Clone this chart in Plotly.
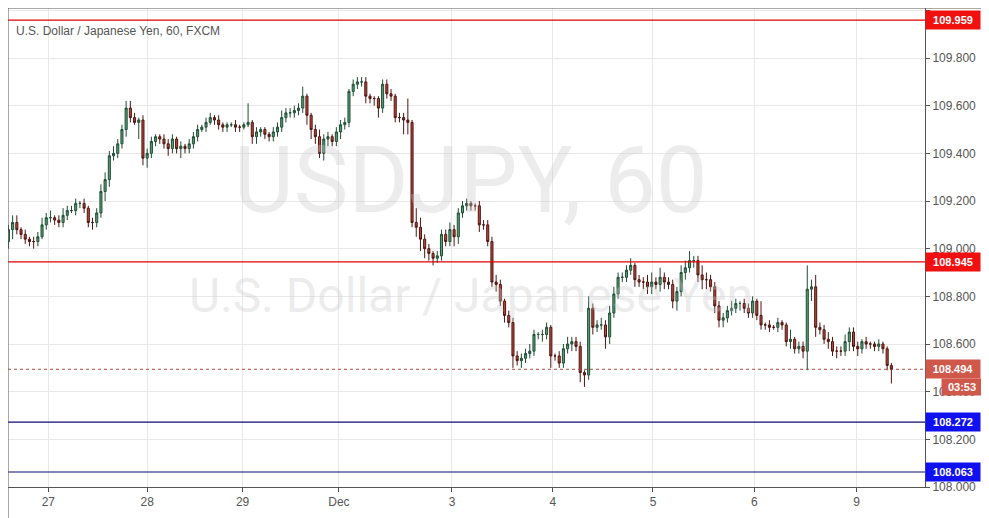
import plotly.graph_objects as pgo

# hourly closes, USD/JPY
closes = [
    109.08, 109.11, 109.08, 109.06, 109.04, 109.03, 109.03, 109.05, 109.10, 109.13,
    109.13, 109.12, 109.11, 109.14, 109.16, 109.16, 109.19, 109.19, 109.17, 109.11,
    109.11, 109.15, 109.24, 109.29, 109.39, 109.40, 109.44, 109.50, 109.59, 109.55,
    109.53, 109.54, 109.38, 109.40, 109.45, 109.47, 109.46, 109.44, 109.42, 109.46,
    109.42, 109.43, 109.42, 109.44, 109.47, 109.50, 109.51, 109.53, 109.55, 109.54,
    109.52, 109.51, 109.52,
    109.52, 109.51, 109.51, 109.52, 109.53, 109.47, 109.49, 109.50, 109.48, 109.47,
    109.49, 109.51, 109.55, 109.57, 109.57, 109.58, 109.59, 109.64, 109.56, 109.50,
    109.47, 109.40, 109.46, 109.47, 109.45, 109.49, 109.52, 109.53, 109.66, 109.69,
    109.70, 109.70, 109.64, 109.63, 109.63, 109.59, 109.69, 109.65, 109.64, 109.55,
    109.55, 109.54, 109.53, 109.11, 109.09, 109.04, 109.00, 108.98, 108.96, 108.97,
    109.06, 109.03, 109.08,
    109.05, 109.15, 109.18, 109.19, 109.18, 109.18, 109.10, 109.10, 109.03, 108.86,
    108.85, 108.78, 108.72, 108.69, 108.55, 108.53, 108.54, 108.56, 108.57, 108.64,
    108.64, 108.64, 108.67, 108.55, 108.55, 108.52, 108.58, 108.60, 108.61, 108.59,
    108.48, 108.47, 108.75, 108.67, 108.68, 108.68, 108.63, 108.73, 108.81, 108.88,
    108.88, 108.91, 108.93, 108.87, 108.86, 108.86, 108.84, 108.86, 108.85, 108.88,
    108.86, 108.85,
    108.78, 108.82, 108.90, 108.92, 108.95, 108.95, 108.89, 108.87, 108.87, 108.84,
    108.76, 108.70, 108.71, 108.74, 108.75, 108.77, 108.77, 108.75, 108.73, 108.78,
    108.72, 108.68, 108.68, 108.67, 108.67, 108.69, 108.68, 108.61, 108.62, 108.58,
    108.59, 108.57, 108.83, 108.84, 108.67, 108.66, 108.62, 108.61, 108.57, 108.57,
    108.57, 108.61, 108.65, 108.59, 108.58, 108.61, 108.60, 108.60, 108.59, 108.60,
    108.58, 108.51, 108.494,
]
first_open = 109.03

# wick length above / below the body
wick_up = [
    0.02, 0.03, 0.03, 0.01, 0.02, 0.01, 0.02, 0.02, 0.03, 0.02,
    0.03, 0.01, 0.02, 0.03, 0.02, 0.02, 0.02, 0.01, 0.02, 0.01,
    0.02, 0.02, 0.03, 0.03, 0.02, 0.03, 0.02, 0.02, 0.03, 0.03,
    0.02, 0.01, 0.02, 0.02, 0.02, 0.01, 0.01, 0.02, 0.02, 0.02,
    0.01, 0.02, 0.01, 0.02, 0.02, 0.02, 0.01, 0.02, 0.02, 0.01,
    0.02, 0.01, 0.01,
    0.01, 0.02, 0.01, 0.01, 0.08, 0.01, 0.02, 0.01, 0.01, 0.01,
    0.02, 0.02, 0.03, 0.02, 0.02, 0.02, 0.02, 0.04, 0.01, 0.01,
    0.02, 0.03, 0.02, 0.02, 0.01, 0.02, 0.02, 0.02, 0.01, 0.02,
    0.02, 0.02, 0.02, 0.01, 0.01, 0.01, 0.02, 0.02, 0.02, 0.01,
    0.02, 0.02, 0.09, 0.01, 0.06, 0.04, 0.02, 0.02, 0.01, 0.02,
    0.02, 0.02, 0.03,
    0.02, 0.02, 0.02, 0.02, 0.01, 0.01, 0.02, 0.02, 0.02, 0.02,
    0.03, 0.02, 0.01, 0.02, 0.02, 0.02, 0.02, 0.02, 0.03, 0.02,
    0.01, 0.02, 0.02, 0.01, 0.01, 0.02, 0.02, 0.03, 0.02, 0.02,
    0.02, 0.01, 0.05, 0.02, 0.02, 0.03, 0.02, 0.03, 0.03, 0.02,
    0.02, 0.02, 0.03, 0.01, 0.02, 0.02, 0.03, 0.04, 0.02, 0.04,
    0.02, 0.02,
    0.02, 0.02, 0.03, 0.03, 0.04, 0.02, 0.02, 0.04, 0.03, 0.02,
    0.02, 0.02, 0.02, 0.02, 0.03, 0.02, 0.01, 0.02, 0.02, 0.02,
    0.01, 0.06, 0.01, 0.02, 0.01, 0.02, 0.01, 0.01, 0.04, 0.01,
    0.02, 0.02, 0.10, 0.03, 0.05, 0.02, 0.02, 0.03, 0.02, 0.02,
    0.02, 0.03, 0.02, 0.02, 0.02, 0.01, 0.02, 0.01, 0.01, 0.02,
    0.01, 0.01, 0.01,
]
wick_dn = [
    0.03, 0.04, 0.02, 0.02, 0.02, 0.02, 0.03, 0.02, 0.01, 0.02,
    0.02, 0.02, 0.02, 0.02, 0.02, 0.01, 0.02, 0.02, 0.02, 0.02,
    0.03, 0.02, 0.02, 0.04, 0.03, 0.02, 0.02, 0.02, 0.03, 0.02,
    0.01, 0.07, 0.03, 0.04, 0.02, 0.02, 0.02, 0.02, 0.03, 0.02,
    0.02, 0.04, 0.02, 0.02, 0.02, 0.02, 0.01, 0.02, 0.01, 0.02,
    0.02, 0.02, 0.02,
    0.01, 0.02, 0.02, 0.01, 0.01, 0.03, 0.03, 0.02, 0.02, 0.02,
    0.02, 0.02, 0.02, 0.02, 0.02, 0.02, 0.02, 0.02, 0.04, 0.04,
    0.03, 0.02, 0.03, 0.03, 0.02, 0.02, 0.03, 0.02, 0.02, 0.02,
    0.02, 0.02, 0.03, 0.02, 0.03, 0.04, 0.02, 0.02, 0.02, 0.02,
    0.02, 0.06, 0.05, 0.02, 0.04, 0.05, 0.04, 0.03, 0.03, 0.02,
    0.02, 0.02, 0.02,
    0.04, 0.03, 0.02, 0.02, 0.02, 0.02, 0.03, 0.02, 0.02, 0.02,
    0.03, 0.02, 0.03, 0.02, 0.05, 0.02, 0.03, 0.02, 0.02, 0.02,
    0.02, 0.03, 0.02, 0.05, 0.02, 0.02, 0.02, 0.02, 0.03, 0.02,
    0.04, 0.05, 0.02, 0.03, 0.02, 0.02, 0.05, 0.03, 0.02, 0.02,
    0.02, 0.02, 0.02, 0.03, 0.02, 0.03, 0.03, 0.03, 0.02, 0.03,
    0.03, 0.02,
    0.03, 0.04, 0.02, 0.03, 0.02, 0.03, 0.03, 0.04, 0.04, 0.02,
    0.03, 0.03, 0.03, 0.02, 0.02, 0.02, 0.03, 0.02, 0.02, 0.02,
    0.02, 0.02, 0.02, 0.02, 0.01, 0.02, 0.02, 0.02, 0.03, 0.02,
    0.02, 0.03, 0.08, 0.05, 0.04, 0.02, 0.02, 0.03, 0.02, 0.03,
    0.02, 0.02, 0.04, 0.02, 0.03, 0.02, 0.02, 0.02, 0.02, 0.02,
    0.02, 0.02, 0.06,
]

day_ticks = [9.5, 33, 55.7, 78.6, 105.5, 129.5, 153.3, 177.4, 201.7]
day_labels = ['27', '28', '29', 'Dec', '3', '4', '5', '6', '9']

levels = [109.959, 108.945, 108.272, 108.063]
level_colors = ['#e00000', '#e00000', '#0c0c6e', '#0c0c6e']
label_colors = ['#f01010', '#f01010', '#1010f0', '#1010f0']
last_price = 108.494

opens = [first_open] + closes[:-1]
highs = [max(o, c) + w for o, c, w in zip(opens, closes, wick_up)]
lows = [min(o, c) - w for o, c, w in zip(opens, closes, wick_dn)]
idx = list(range(len(closes)))

fig = pgo.Figure()
fig.add_trace(pgo.Candlestick(
    x=idx, open=opens, high=highs, low=lows, close=closes,
    increasing=dict(line=dict(color='#1f4d33', width=1), fillcolor='#5b9e78'),
    decreasing=dict(line=dict(color='#4f1510', width=1), fillcolor='#b5483c'),
    whiskerwidth=0, showlegend=False, hoverinfo='skip'
))

for lvl, col in zip(levels, level_colors):
    fig.add_shape(type='line', xref='paper', x0=0, x1=1, y0=lvl, y1=lvl,
                  line=dict(color=col, width=1.2), layer='above')
fig.add_shape(type='line', xref='paper', x0=0, x1=1, y0=last_price, y1=last_price,
              line=dict(color='#b5483c', width=1, dash='dot'), layer='above')
# outer frame around chart and price scale
fig.add_shape(type='rect', xref='paper', yref='paper', x0=0, x1=1.062, y0=-0.071, y1=1.0,
              line=dict(color='#555555', width=1))

for lvl, col in zip(levels, label_colors):
    fig.add_annotation(xref='paper', x=1.0, y=lvl, text=f'<b>{lvl:.3f}</b>', showarrow=False,
                       xanchor='left', bgcolor=col, font=dict(color='white', size=11),
                       borderpad=3, width=48)
fig.add_annotation(xref='paper', x=1.0, y=last_price, text=f'<b>{last_price:.3f}</b>', showarrow=False,
                   xanchor='left', bgcolor='#d0584a', font=dict(color='white', size=11),
                   borderpad=3, width=48)
fig.add_annotation(xref='paper', x=1.0, y=last_price - 0.074, text='<b>03:53</b>', showarrow=False,
                   xanchor='left', xshift=16, bgcolor='#d0584a', font=dict(color='white', size=11),
                   borderpad=2, width=36)

# watermark and header
fig.add_annotation(xref='paper', yref='paper', x=0.505, y=0.64, text='USDJPY, 60', showarrow=False,
                   font=dict(size=92, color='rgba(200,200,200,0.35)', family='Roboto'))
fig.add_annotation(xref='paper', yref='paper', x=0.505, y=0.40, text='U.S. Dollar / Japanese Yen',
                   showarrow=False, font=dict(size=48, color='rgba(200,200,200,0.35)', family='Roboto'))
fig.add_annotation(xref='paper', yref='paper', x=0.007, y=1.0, yshift=-14,
                   text='U.S. Dollar / Japanese Yen, 60, FXCM', showarrow=False, xanchor='left',
                   font=dict(size=12, color='#555555', family='Arial'))

fig.update_layout(
    width=989, height=518,
    margin=dict(l=0, r=72, t=0, b=39, autoexpand=False),
    paper_bgcolor='white', plot_bgcolor='white',
    font=dict(family='Arial', size=12, color='#555555'),
    xaxis=dict(
        range=[-0.1, 218.0], tickvals=day_ticks, ticktext=day_labels,
        showgrid=True, gridcolor='#e8e8e8', rangeslider=dict(visible=False),
        ticks='outside', ticklen=4, tickcolor='#555555', automargin=False,
        showline=True, linecolor='#555555', mirror=True, zeroline=False
    ),
    yaxis=dict(
        range=[108.0, 110.01], side='right', dtick=0.2, tickformat='.3f',
        showgrid=True, gridcolor='#e8e8e8', ticks='outside', ticklen=4, tickcolor='#555555',
        showline=True, linecolor='#555555', mirror=True, zeroline=False, automargin=False
    ),
)

fig.write_html('out.html')
